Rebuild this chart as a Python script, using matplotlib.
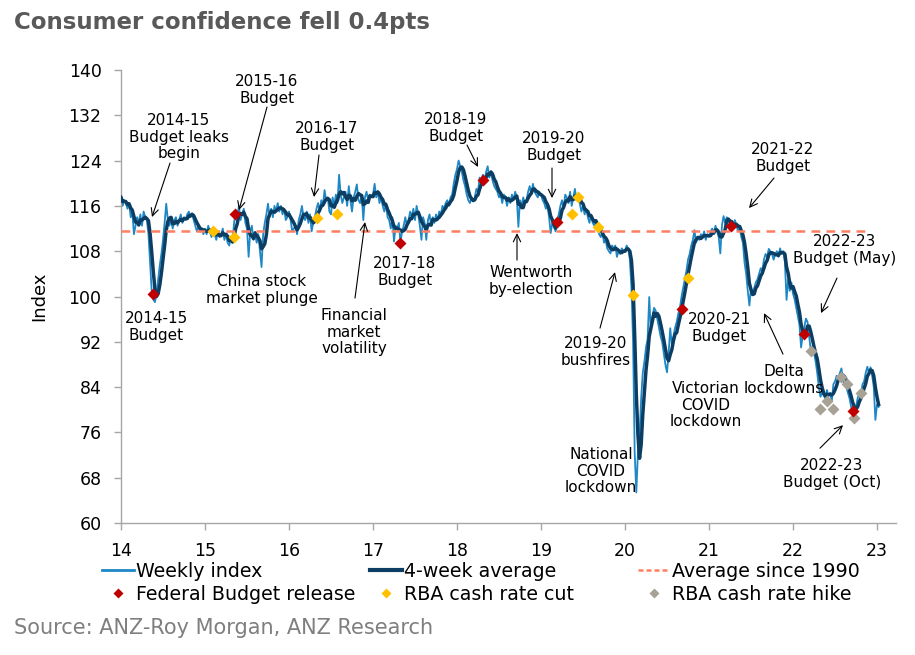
import numpy as np
import pandas as pd
import matplotlib
matplotlib.use("Agg")
import matplotlib.pyplot as plt
from matplotlib.lines import Line2D

# ---------------- data ----------------
weekly_2014 = [117.5, 116.0, 117.0, 116.5, 115.5, 116.5, 114.0, 115.0,
               111.0, 112.5, 114.0, 113.0, 114.5, 112.5, 115.0, 114.0,
               113.5, 111.0, 106.0, 101.0, 99.5, 99.0, 100.5, 103.0,
               105.5, 107.5, 110.0, 113.0, 116.4, 113.5, 112.5, 113.5,
               112.0, 113.5, 114.0, 112.5, 113.5, 114.5, 113.0, 114.0,
               113.5, 114.5, 115.0, 114.0, 114.6, 113.5, 112.5, 111.5,
               112.5, 111.5, 112.0, 111.0]
weekly_2015 = [112.0, 111.0, 112.5, 111.5, 110.5, 112.0, 111.0, 110.0,
               111.5, 110.5, 111.0, 112.0, 110.0, 111.0, 109.5, 109.0,
               110.5, 109.5, 113.0, 115.0, 114.0, 116.0, 113.5, 114.5,
               115.5, 113.0, 112.0, 107.0, 111.5, 112.5, 110.0, 111.0,
               109.5, 111.0, 108.0, 105.2, 111.0, 113.0, 114.5, 116.4,
               114.0, 115.5, 114.0, 116.0, 115.0, 116.5, 115.0, 116.0,
               114.5, 115.5, 113.5, 114.0]
weekly_2016 = [115.0, 113.5, 111.5, 112.0, 112.5, 111.0, 113.5, 114.5,
               116.0, 114.0, 113.5, 115.0, 113.0, 114.5, 111.5, 113.0,
               114.0, 115.5, 116.5, 115.0, 117.0, 116.0, 118.8, 117.0,
               117.5, 115.0, 114.5, 117.5, 116.0, 118.0, 116.5, 121.5,
               118.0, 116.5, 117.5, 118.5, 116.0, 119.5, 117.0, 115.0,
               117.5, 118.5, 119.8, 117.0, 116.5, 118.0, 113.5, 117.5,
               118.5, 117.0, 118.0, 117.5]
weekly_2017 = [118.0, 119.9, 117.5, 118.5, 116.5, 117.5, 116.0, 115.0,
               116.5, 114.0, 113.5, 112.0, 114.0, 109.7, 112.5, 112.0,
               113.0, 109.5, 111.5, 112.5, 114.0, 112.5, 113.5, 115.0,
               114.0, 115.5, 113.5, 116.0, 114.5, 112.5, 110.0, 114.0,
               113.0, 110.0, 113.5, 114.5, 112.5, 114.0, 113.0, 114.5,
               113.5, 115.0, 114.5, 116.0, 115.5, 116.5, 117.0, 116.0,
               117.5, 118.0, 120.0, 121.5]
weekly_2018 = [122.5, 124.0, 123.0, 122.0, 120.5, 119.5, 118.0, 117.0,
               116.5, 117.5, 116.8, 117.5, 119.0, 118.5, 121.0, 120.5,
               121.5, 120.0, 122.0, 123.0, 121.0, 122.0, 120.5, 119.5,
               119.0, 118.5, 117.5, 118.0, 116.5, 118.0, 117.5, 116.0,
               117.5, 116.5, 118.0, 117.0, 118.5, 117.5, 112.3, 117.0,
               116.0, 117.5, 116.5, 117.0, 118.5, 119.5, 118.0, 119.9,
               118.5, 118.0, 117.5, 118.5]
weekly_2019 = [118.0, 117.0, 116.5, 115.5, 116.0, 114.0, 111.2, 113.0,
               112.5, 111.5, 113.5, 114.5, 116.0, 117.0, 115.5, 118.0,
               117.5, 116.5, 118.5, 116.0, 117.5, 119.0, 117.0, 118.0,
               116.5, 115.0, 116.0, 114.5, 115.5, 114.0, 113.0, 114.5,
               113.0, 112.5, 113.5, 112.0, 111.0, 110.5, 111.5, 109.5,
               110.0, 108.5, 108.0, 107.6, 109.0, 108.5, 109.0, 107.0,
               108.0, 107.5, 108.5, 108.0]
weekly_2020 = [108.0, 109.0, 108.5, 106.5, 101.5, 92.0, 72.3, 65.4,
               72.5, 75.5, 82.0, 86.5, 88.5, 91.0, 92.5, 99.9,
               94.0, 96.5, 98.0, 97.5, 96.0, 94.5, 93.0, 92.0,
               90.0, 88.0, 86.6, 90.0, 94.4, 91.5, 93.0, 94.5,
               95.5, 97.0, 98.0, 100.0, 101.5, 103.0, 104.5, 106.5,
               107.5, 109.0, 110.0, 111.7, 109.5, 110.5, 110.0, 111.0,
               110.5, 111.5, 110.0, 111.0]
weekly_2021 = [110.5, 111.5, 112.0, 111.0, 112.5, 111.5, 110.5, 107.6,
               112.5, 114.2, 113.0, 114.0, 113.5, 112.5, 113.0, 112.0,
               113.5, 112.5, 111.5, 112.0, 110.5, 109.5, 106.0, 104.0,
               101.0, 98.4, 101.5, 100.5, 101.5, 102.5, 103.0, 104.0,
               105.0, 104.5, 106.5, 107.5, 107.0, 108.4, 108.0, 107.5,
               106.5, 107.5, 108.0, 107.0, 108.5, 107.5, 108.0, 106.0,
               99.4, 103.0, 101.0, 102.5]
weekly_2022 = [100.5, 99.5, 98.0, 96.5, 95.0, 91.0, 93.0, 94.5,
               96.1, 95.5, 93.0, 90.5, 91.0, 90.0, 88.5, 86.5,
               84.0, 82.3, 83.0, 82.5, 82.0, 83.5, 82.5, 83.0,
               81.5, 84.5, 85.0, 86.0, 85.5, 86.5, 87.3, 85.0,
               84.5, 84.0, 83.0, 82.0, 80.5, 79.5, 80.0, 80.5,
               82.0, 83.0, 82.5, 84.5, 85.0, 86.5, 87.6, 86.5,
               87.5, 86.0, 84.0, 78.2]
weekly_2023 = [80.9, 80.5]

avg_since_1990 = 111.6
avg_line_start, avg_line_end = 14.0, 22.89

budget_t = [14.377, 15.357, 17.32, 18.306, 19.194, 20.68, 21.26, 22.131, 22.71]
budget_v = [100.4, 114.6, 109.4, 120.6, 113.2, 97.8, 112.5, 93.3, 79.8]
cut_t = [15.10, 15.34, 16.33, 16.57, 19.365, 19.437, 19.68, 20.10, 20.754]
cut_v = [111.6, 110.5, 113.8, 114.6, 114.6, 117.6, 112.2, 100.3, 103.3]
hike_t = [22.22, 22.32, 22.40, 22.472, 22.571, 22.647, 22.722, 22.81]
hike_v = [90.4, 80.2, 81.6, 80.1, 85.8, 84.5, 78.5, 82.9]

year_ticks = [14, 15, 16, 17, 18, 19, 20, 21, 22, 23]
year_labels = ["14", "15", "16", "17", "18", "19", "20", "21", "22", "23"]
y_ticks = [60, 68, 76, 84, 92, 100, 108, 116, 124, 132, 140]

weekly = pd.Series(weekly_2014 + weekly_2015 + weekly_2016 + weekly_2017 +
                   weekly_2018 + weekly_2019 + weekly_2020 + weekly_2021 +
                   weekly_2022 + weekly_2023)
avg4 = weekly.rolling(4, min_periods=1).mean()
t = 14 + np.arange(len(weekly)) / 52.0

# ---------------- styling ----------------
C_WEEK = "#1E87C6"
C_AVG = "#0C3D62"
C_DASH = "#FF7F61"
C_RED = "#C00000"
C_YEL = "#FFC000"
C_GRY = "#A8A196"
C_AX = "#A6A6A6"

plt.rcParams["font.family"] = ["DejaVu Sans"]

fig = plt.figure(figsize=(9.15, 6.55), dpi=100)
ax = fig.add_axes([121/915, 1-523/655, (896-121)/915, (523-70)/655])

ax.plot(t, weekly, color=C_WEEK, lw=1.3, zorder=2)
ax.plot(t, avg4, color=C_AVG, lw=2.5, zorder=3)
ax.hlines(avg_since_1990, avg_line_start, avg_line_end, colors=C_DASH,
          lw=1.8, linestyles=(0, (3.5, 2.5)), zorder=4)
ax.plot(budget_t, budget_v, "D", color=C_RED, ms=6.5, mec="none", zorder=6)
ax.plot(cut_t, cut_v, "D", color=C_YEL, ms=6.5, mec="none", zorder=5)
ax.plot(hike_t, hike_v, "D", color=C_GRY, ms=6.5, mec="none", zorder=5)

ax.set_xlim(14, 14 + (896-121)/84)
ax.set_ylim(60, 140)
ax.set_xticks(year_ticks)
ax.set_xticklabels(year_labels)
ax.set_yticks(y_ticks)
for s in ["top", "right"]:
    ax.spines[s].set_visible(False)
for s in ["left", "bottom"]:
    ax.spines[s].set_color(C_AX)
    ax.spines[s].set_linewidth(1.0)
ax.tick_params(axis="both", colors=C_AX, labelcolor="black", labelsize=12.5,
               length=5, width=1.0, direction="out")
ax.tick_params(axis="y", pad=9)
ax.tick_params(axis="x", pad=9)
ax.set_ylabel("Index", fontsize=13)
ax.yaxis.set_label_coords(-0.094, 0.5)

# ---------------- annotations ----------------
def px(xp, yp):
    return (14 + (xp-121)/84.0, 140 - (yp-70)/5.66)

labels = [
    ("2014-15\nBudget leaks\nbegin", (179, 137)),
    ("2014-15\nBudget", (156, 327)),
    ("2015-16\nBudget", (267, 90)),
    ("2016-17\nBudget", (327, 137)),
    ("China stock\nmarket plunge", (262, 290)),
    ("Financial\nmarket\nvolatility", (354, 332)),
    ("2017-18\nBudget", (405, 272)),
    ("2018-19\nBudget", (456, 128)),
    ("2019-20\nBudget", (554, 147)),
    ("Wentworth\nby-election", (531, 281)),
    ("2019-20\nbushfires", (596, 352)),
    ("National\nCOVID\nlockdown", (601, 471)),
    ("2020-21\nBudget", (719, 328)),
    ("Victorian\nCOVID\nlockdown", (706, 405)),
    ("2021-22\nBudget", (783, 158)),
    ("2022-23\nBudget (May)", (845, 250)),
    ("Delta\nlockdowns", (784, 380)),
    ("2022-23\nBudget (Oct)", (832, 474)),
]
for txt, (xp, yp) in labels:
    xx, yy = px(xp, yp)
    ax.text(xx, yy, txt, ha="center", va="center", fontsize=11,
            linespacing=1.15, color="black", zorder=7)

arrows = [
    ((170, 163), (152, 217)),
    ((267, 107), (239, 210)),
    ((319, 155), (314, 197)),
    ((355, 298), (365, 222)),
    ((467, 145), (478, 167)),
    ((552, 168), (552, 198)),
    ((517, 260), (517, 233)),
    ((600, 328), (615, 272)),
    ((774, 178), (749, 208)),
    ((837, 278), (821, 313)),
    ((783, 354), (764, 313)),
    ((820, 448), (843, 425)),
]
for (s, e) in arrows:
    ax.annotate("", xy=px(*e), xytext=px(*s),
                arrowprops=dict(arrowstyle="->,head_length=0.45,head_width=0.22",
                                color="black", lw=0.8,
                                mutation_scale=12, shrinkA=0, shrinkB=0),
                zorder=7)

# ---------------- legend ----------------
leg_kw = dict(loc="upper left", frameon=False, fontsize=13.7, handlelength=1.7,
              handletextpad=0.1, borderpad=0, borderaxespad=0,
              labelspacing=0.2)
col1 = [Line2D([], [], color=C_WEEK, lw=2),
        Line2D([], [], ls="none", marker="D", color=C_RED, ms=5, mec="none")]
col2 = [Line2D([], [], color=C_AVG, lw=3),
        Line2D([], [], ls="none", marker="D", color=C_YEL, ms=5, mec="none")]
col3 = [Line2D([], [], color=C_DASH, lw=1.8, ls=(0, (2, 1.2))),
        Line2D([], [], ls="none", marker="D", color=C_GRY, ms=5, mec="none")]
fig.legend(col1, ["Weekly index", "Federal Budget release"],
           bbox_to_anchor=(102/915, 1-562/655), **leg_kw)
fig.legend(col2, ["4-week average", "RBA cash rate cut"],
           bbox_to_anchor=(370/915, 1-562/655), **leg_kw)
fig.legend(col3, ["Average since 1990", "RBA cash rate hike"],
           bbox_to_anchor=(638/915, 1-562/655), **leg_kw)

fig.text(14/915, 1-22/655, "Consumer confidence fell 0.4pts", fontsize=16.5,
         fontweight="bold", color="#595959", ha="left", va="center")
fig.text(14/915, 1-628/655, "Source: ANZ-Roy Morgan, ANZ Research",
         fontsize=15, color="#7F7F7F", ha="left", va="center")

fig.savefig("out.png", dpi=100)
